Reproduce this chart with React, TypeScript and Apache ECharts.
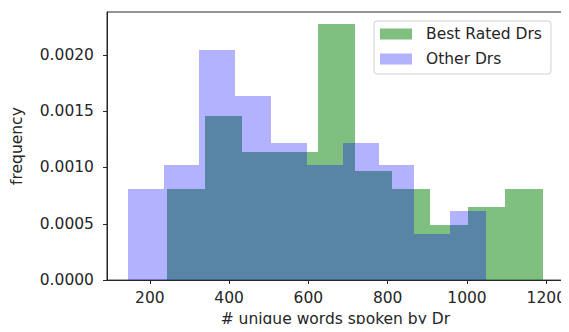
import React, { useEffect, useRef } from "react";
import * as echarts from "echarts";

// Histogram bin edges (# unique words) and densities
const bestEdges = [244, 339, 433, 528, 623, 718, 812, 907, 1002, 1097, 1192];
const bestValues = [0.00081, 0.00146, 0.001135, 0.001135, 0.00227, 0.00097, 0.00081, 0.000485, 0.00065, 0.00081];
const otherEdges = [145, 235, 325, 416, 506, 596, 687, 777, 867, 958, 1048];
const otherValues = [0.00081, 0.00102, 0.00204, 0.00163, 0.00122, 0.00102, 0.00122, 0.00102, 0.00041, 0.00061];

const xTicks = [200, 400, 600, 800, 1000, 1200];
const yTicks = [0, 0.0005, 0.001, 0.0015, 0.002];

const seriesNames = ["Best Rated Drs", "Other Drs"];
const FONT = "DejaVu Sans";
const FS = 15.5;
const INK = "#262626";

function toBins(edges: number[], values: number[]) {
  return values.map((v, i) => [edges[i], edges[i + 1], v]);
}

function renderHist(params: any, api: any) {
  const x0 = api.value(0);
  const x1 = api.value(1);
  const h = api.value(2);
  const p0 = api.coord([x0, h]);
  const p1 = api.coord([x1, 0]);
  const left = Math.round(p0[0]);
  const right = Math.round(p1[0]);
  const top = Math.round(p0[1]);
  const bottom = p1[1];
  return {
    type: "rect",
    shape: { x: left, y: top, width: right - left, height: bottom - top },
    style: { fill: api.visual("color") },
  };
}

export default function App() {
  const ref = useRef<HTMLDivElement>(null);
  useEffect(() => {
    if (!ref.current) return;
    const chart = echarts.init(ref.current, null, { renderer: "svg" });
    chart.setOption({
      animation: false,
      grid: {
        left: 107,
        right: 5,
        top: 12,
        bottom: 51,
        show: true,
        borderColor: INK,
        borderWidth: 1,
        backgroundColor: "transparent",
      },
      legend: {
        orient: "vertical",
        left: 374,
        top: 21,
        itemWidth: 32,
        itemHeight: 11,
        itemGap: 9,
        padding: [5, 9, 7, 6],
        backgroundColor: "#fff",
        borderColor: "#d0d0d0",
        borderWidth: 1,
        borderRadius: 3,
        icon: "rect",
        data: seriesNames,
        textStyle: { fontFamily: FONT, fontSize: FS, color: INK, padding: [0, 0, 0, 9] },
      },
      xAxis: {
        type: "value",
        min: 92,
        max: 1244,
        name: "# unique words spoken by Dr",
        nameLocation: "middle",
        nameGap: 29,
        nameTextStyle: { fontFamily: FONT, fontSize: FS, color: INK },
        axisLine: { show: true, lineStyle: { color: INK, width: 1 } },
        axisTick: { show: true, length: 4, lineStyle: { color: INK }, customValues: xTicks },
        axisLabel: {
          fontFamily: FONT,
          fontSize: FS,
          color: INK,
          margin: 10,
          customValues: xTicks,
          formatter: (v: number) => String(v),
        },
        splitLine: { show: false },
      },
      yAxis: {
        type: "value",
        min: 0,
        max: 0.00238,
        name: "frequency",
        nameLocation: "middle",
        nameGap: 82,
        nameTextStyle: { fontFamily: FONT, fontSize: FS, color: INK },
        axisLine: { show: true, lineStyle: { color: INK, width: 1 } },
        axisTick: { show: true, length: 4, lineStyle: { color: INK }, customValues: yTicks },
        axisLabel: {
          fontFamily: FONT,
          fontSize: FS,
          color: INK,
          margin: 13,
          customValues: yTicks,
          formatter: (v: number) => v.toFixed(4),
        },
        splitLine: { show: false },
      },
      series: [
        {
          name: seriesNames[0],
          type: "custom",
          renderItem: renderHist,
          itemStyle: { color: "rgba(0,128,0,0.5)" },
          encode: { x: [0, 1], y: 2 },
          data: toBins(bestEdges, bestValues),
        },
        {
          name: seriesNames[1],
          type: "custom",
          renderItem: renderHist,
          itemStyle: { color: "rgba(0,0,255,0.3)" },
          encode: { x: [0, 1], y: 2 },
          data: toBins(otherEdges, otherValues),
        },
      ],
    });
    return () => chart.dispose();
  }, []);
  return <div ref={ref} style={{ width: 569, height: 332, margin: -8 }} />;
}
